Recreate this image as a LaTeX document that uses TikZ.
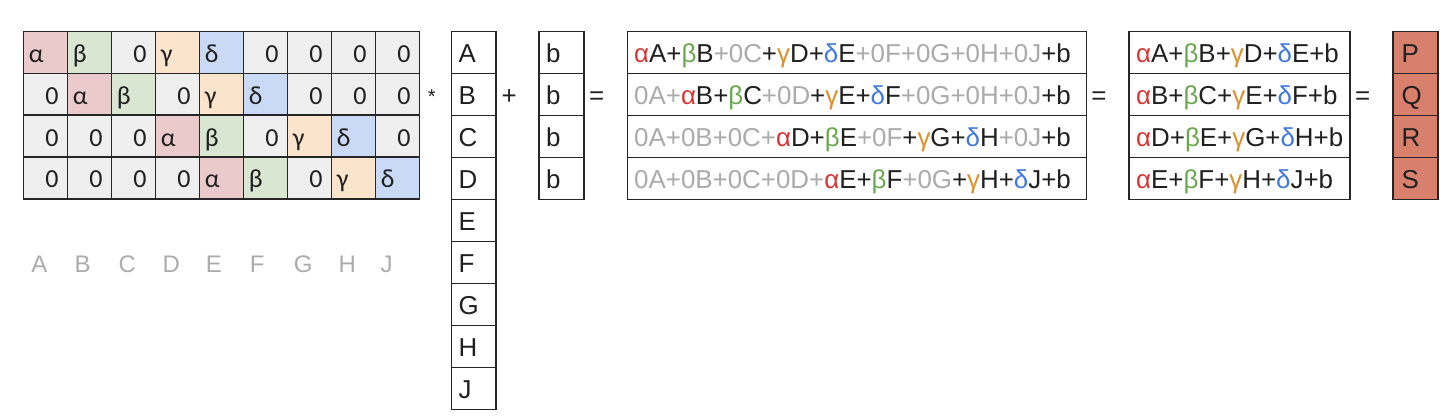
\documentclass[tikz,border=0pt]{standalone}
\usepackage{fontspec}
\setmainfont{Liberation Sans}
\newfontfamily\calib{Carlito}
\definecolor{filla}{HTML}{EACACA}
\definecolor{fillb}{HTML}{D9E7D2}
\definecolor{fillc}{HTML}{FBE4CC}
\definecolor{filld}{HTML}{C9D9F6}
\definecolor{fillz}{HTML}{EFEFEF}
\definecolor{fillout}{HTML}{D8806C}
\definecolor{linecol}{HTML}{262626}
\definecolor{txtcol}{HTML}{202020}
\definecolor{colal}{HTML}{D83434}
\definecolor{colbe}{HTML}{6AA84F}
\definecolor{colga}{HTML}{DB912F}
\definecolor{colde}{HTML}{3F79DA}
\definecolor{colgr}{HTML}{ABABAB}
\newcommand\alC{\textcolor{colal}{α}}
\newcommand\beC{\textcolor{colbe}{β}}
\newcommand\gaC{\textcolor{colga}{γ}}
\newcommand\deC{\textcolor{colde}{δ}}
\newcommand\grT[1]{\textcolor{colgr}{#1}}
\def\mgla{α}\def\mglb{β}\def\mglc{γ}\def\mgld{δ}
\begin{document}
\begin{tikzpicture}[x=1pt,y=-1pt,
  cellbox/.style={draw=linecol, line width=1.6pt, minimum width=44pt, minimum height=41.8pt, inner sep=0pt, anchor=north west},
  mtxt/.style={font=\calib\fontsize{26}{30}\selectfont, text=txtcol, inner sep=0pt},
  etxt/.style={font=\fontsize{25.9}{30}\selectfont, text=txtcol, inner sep=0pt, anchor=base west},
  optxt/.style={font=\fontsize{25.9}{30}\selectfont, text=txtcol, inner sep=0pt, anchor=base},
  lbltxt/.style={font=\fontsize{24}{28}\selectfont, text=colgr, inner sep=0pt, anchor=base}]
\useasboundingbox (0,0) rectangle (1456,418);
% coefficient matrix
\foreach \row [count=\r] in {{a,b,z,c,d,z,z,z,z},{z,a,b,z,c,d,z,z,z},{z,z,z,a,b,z,c,d,z},{z,z,z,z,a,b,z,c,d}}{
  \foreach \k [count=\c] in \row {
    \node[cellbox, fill=fill\k] (m-\r-\c) at ({22.7+44*(\c-1)}, {30.7+41.8*(\r-1)}) {};
    \if\k z
      \node[mtxt, anchor=base east] (mt-\r-\c) at ({22.7+44*\c-8}, {62.5+41.8*(\r-1)}) {0};
    \else
      \node[mtxt, anchor=base west] (mt-\r-\c) at ({22.7+44*(\c-1)+6}, {62.5+41.8*(\r-1)}) {\csname mgl\k\endcsname};
    \fi
  }
}
% column labels below matrix
\foreach \l/\x in {A/39.3,B/82.7,C/127.3,D/171.3,E/214,F/257.3,G/303.3,H/347.3,J/386.7}{
  \node[lbltxt] (lbl-\l) at (\x,272) {\l};
}
% star
\node[font=\fontsize{20}{24}\selectfont, text=txtcol, inner sep=0pt, anchor=base] (star) at (431.7,103.5) {*};
% variable vector
\foreach \l [count=\i] in {A,B,C,D,E,F,G,H,J}{
  \node[cellbox, minimum width=44.3pt, fill=white] (v-\i) at (450.7, {30.7+42*(\i-1)}) {};
  \node[etxt] (vt-\i) at (458.3, {62+42*(\i-1)}) {\l};
}
\node[optxt] (plus) at (509.3,104) {+};
% bias vector
\foreach \i in {1,...,4}{
  \node[cellbox, minimum width=45pt, fill=white] (b-\i) at (538.3, {30.7+42*(\i-1)}) {};
  \node[etxt] (bt-\i) at (546, {62+42*(\i-1)}) {b};
}
\node[optxt] (eq1) at (596.7,104) {=};
% full expressions
\foreach \i in {1,...,4}{
  \node[cellbox, minimum width=459pt, fill=white] (e-\i) at (626.7, {30.7+42*(\i-1)}) {};
}
\node[etxt] (et-1) at (634,62) {\alC A+\beC B\grT{+0C}+\gaC D+\deC E\grT{+0F+0G+0H+0J}+b};
\node[etxt] (et-2) at (634,104) {\grT{0A+}\alC B+\beC C\grT{+0D}+\gaC E+\deC F\grT{+0G+0H+0J}+b};
\node[etxt] (et-3) at (634,146) {\grT{0A+0B+0C+}\alC D+\beC E\grT{+0F}+\gaC G+\deC H\grT{+0J}+b};
\node[etxt] (et-4) at (634,188) {\grT{0A+0B+0C+0D+}\alC E+\beC F\grT{+0G}+\gaC H+\deC J+b};
\node[optxt] (eq2) at (1099,104) {=};
% simplified expressions
\foreach \i in {1,...,4}{
  \node[cellbox, minimum width=221pt, fill=white] (s-\i) at (1128.3, {30.7+42*(\i-1)}) {};
}
\node[etxt] (st-1) at (1136,62) {\alC A+\beC B+\gaC D+\deC E+b};
\node[etxt] (st-2) at (1136,104) {\alC B+\beC C+\gaC E+\deC F+b};
\node[etxt] (st-3) at (1136,146) {\alC D+\beC E+\gaC G+\deC H+b};
\node[etxt] (st-4) at (1136,188) {\alC E+\beC F+\gaC H+\deC J+b};
\node[optxt] (eq3) at (1362.7,104) {=};
% outputs
\foreach \l [count=\i] in {P,Q,R,S}{
  \node[cellbox, minimum width=45pt, fill=fillout] (o-\i) at (1392.3, {30.7+42*(\i-1)}) {};
  \node[etxt] (ot-\i) at (1401.5, {62+42*(\i-1)}) {\l};
}
\end{tikzpicture}
\end{document}
